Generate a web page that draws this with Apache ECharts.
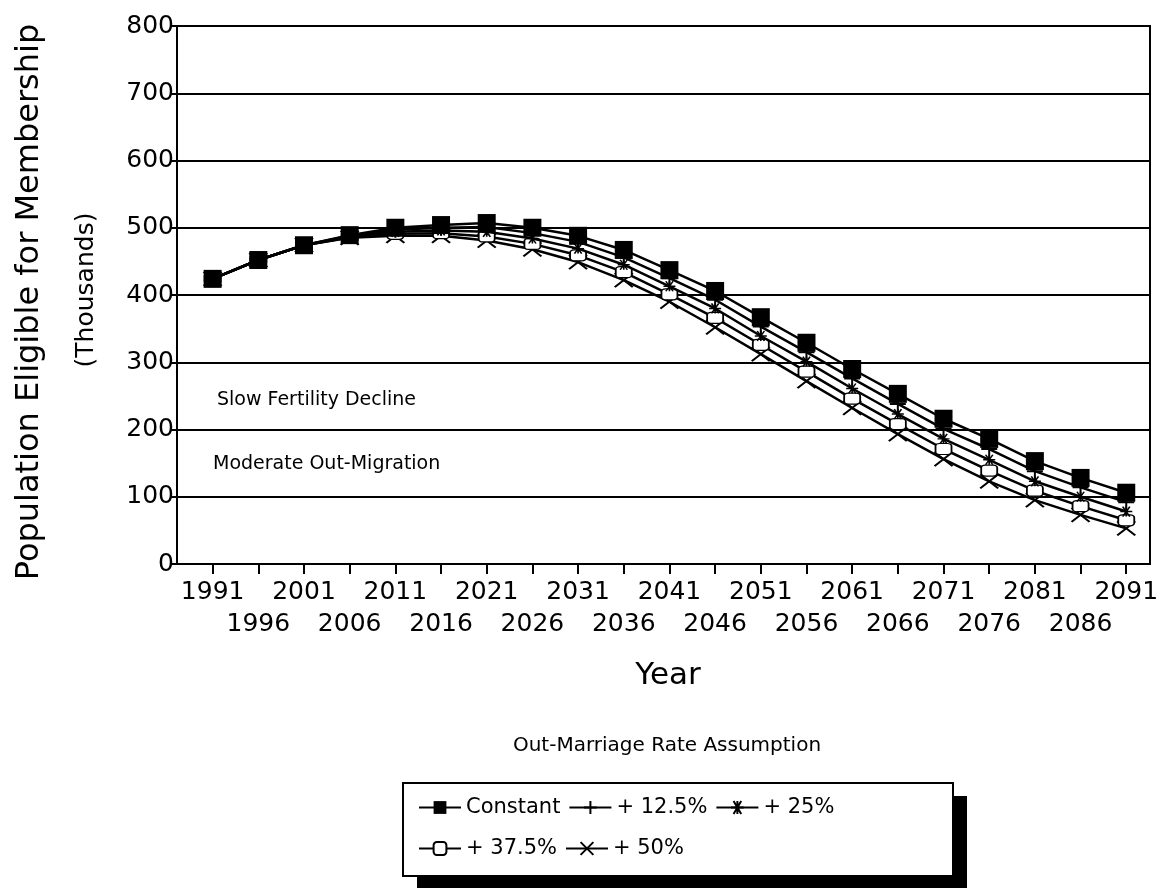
<!DOCTYPE html>
<html>
<head>
<meta charset="utf-8">
<script src="https://cdn.jsdelivr.net/npm/echarts@6/dist/echarts.min.js"></script>
<style>
  html, body { margin: 0; padding: 0; background: #fff; }
  #main { width: 1161px; height: 888px; }
</style>
</head>
<body>
<div id="main"></div>
<script>
var years = [1991, 1996, 2001, 2006, 2011, 2016, 2021, 2026, 2031, 2036, 2041,
             2046, 2051, 2056, 2061, 2066, 2071, 2076, 2081, 2086, 2091];
var constant = [424, 452, 474, 489, 500, 504, 507, 500, 488, 467, 437, 406, 367, 329, 290, 253, 216, 186, 153, 128, 106];
var plus125  = [424, 452, 474, 488, 497, 500, 501, 492, 479, 456, 425, 393, 353, 315, 276, 238, 201, 171, 138, 114, 92];
var plus25   = [424, 452, 474, 487, 494, 496, 494, 484, 469, 445, 413, 380, 339, 301, 261, 223, 186, 155, 123, 100, 78];
var plus375  = [424, 452, 474, 486, 491, 492, 487, 476, 459, 434, 401, 366, 326, 286, 246, 208, 171, 139, 109, 86, 65];
var plus50   = [424, 452, 474, 485, 488, 488, 481, 468, 449, 422, 390, 352, 312, 272, 232, 193, 156, 123, 95, 73, 53];
var yTicks = [0, 100, 200, 300, 400, 500, 600, 700, 800];

// upper row of year labels and the staggered lower row
var yearsTop = years.filter(function (y, i) { return i % 2 === 0; });
var yearsLow = years.filter(function (y, i) { return i % 2 === 1; });

var chartDom = document.getElementById('main');
var myChart = echarts.init(chartDom);
var option;

var font = 'DejaVu Sans';

function pairs(arr) {
  return years.map(function (y, i) { return [y, arr[i]]; });
}

function makeSeries(name, arr, symbol, size, itemStyle, z) {
  return {
    name: name,
    type: 'line',
    xAxisIndex: 0,
    data: pairs(arr),
    symbol: symbol,
    symbolSize: size,
    showAllSymbol: true,
    z: z,
    lineStyle: { color: '#000', width: 2.5 },
    itemStyle: itemStyle,
    emphasis: { disabled: true },
    animation: false
  };
}

function yearLabel(v) { return String(v); }

option = {
  backgroundColor: '#fff',
  grid: {
    left: 177, right: 11, top: 26, bottom: 324,
    outerBoundsMode: 'none',
    show: true, borderColor: '#000', borderWidth: 2, backgroundColor: 'transparent'
  },
  xAxis: [
    {
      type: 'value',
      position: 'bottom',
      min: 1987.1,
      max: 2093.6,
      axisLine: { show: true, lineStyle: { color: '#000', width: 2 } },
      axisTick: { show: true, customValues: years, length: 10, lineStyle: { color: '#000', width: 2 } },
      axisLabel: {
        customValues: yearsTop,
        showMinLabel: true,
        showMaxLabel: true,
        color: '#000',
        fontFamily: font,
        fontSize: 25,
        margin: 16,
        formatter: yearLabel
      },
      splitLine: { show: false }
    },
    {
      type: 'value',
      position: 'bottom',
      offset: 32,
      min: 1987.1,
      max: 2093.6,
      axisLine: { show: false },
      axisTick: { show: false },
      axisLabel: {
        customValues: yearsLow,
        showMinLabel: true,
        showMaxLabel: true,
        color: '#000',
        fontFamily: font,
        fontSize: 25,
        margin: 16,
        formatter: yearLabel
      },
      splitLine: { show: false }
    }
  ],
  yAxis: {
    type: 'value',
    min: 0,
    max: 800,
    interval: 100,
    axisLine: { show: true, lineStyle: { color: '#000', width: 2 } },
    axisTick: { show: true, length: 7, lineStyle: { color: '#000', width: 2 } },
    axisLabel: { color: '#000', fontFamily: font, fontSize: 25, margin: 3,
      formatter: function (v) { return yTicks.indexOf(v) >= 0 ? String(v) : ''; } },
    splitLine: { show: true, lineStyle: { color: '#000', width: 2 } }
  },
  legend: {
    left: 413,
    top: 786,
    width: 470,
    itemWidth: 42,
    itemHeight: 16,
    itemGap: 8,
    itemTextGap: 18,
    textStyle: { color: '#000', fontFamily: font, fontSize: 21, lineHeight: 33 },
    data: ['Constant', '+ 12.5%', '+ 25%', '+ 37.5%', '+ 50%'],
    z: 10
  },
  graphic: [
    { type: 'text', x: 30, y: 302, rotation: Math.PI / 2,
      style: { text: 'Population Eligible for Membership', font: '32px "DejaVu Sans"', fill: '#000',
        textAlign: 'center', textVerticalAlign: 'middle' } },
    { type: 'text', x: 86, y: 290, rotation: Math.PI / 2,
      style: { text: '(Thousands)', font: '25px "DejaVu Sans"', fill: '#000',
        textAlign: 'center', textVerticalAlign: 'middle' } },
    { type: 'text', x: 668, y: 676,
      style: { text: 'Year', font: '31px "DejaVu Sans"', fill: '#000',
        textAlign: 'center', textVerticalAlign: 'middle' } },
    { type: 'text', x: 217, y: 400,
      style: { text: 'Slow Fertility Decline', font: '19px "DejaVu Sans"', fill: '#000',
        textAlign: 'left', textVerticalAlign: 'middle' } },
    { type: 'text', x: 213, y: 464,
      style: { text: 'Moderate Out-Migration', font: '19px "DejaVu Sans"', fill: '#000',
        textAlign: 'left', textVerticalAlign: 'middle' } },
    { type: 'text', x: 667, y: 746,
      style: { text: 'Out-Marriage Rate Assumption', font: '20px "DejaVu Sans"', fill: '#000',
        textAlign: 'center', textVerticalAlign: 'middle' } },
    { type: 'rect', z: 1, shape: { x: 417, y: 796, width: 550, height: 93 },
      style: { fill: '#000' } },
    { type: 'rect', z: 2, shape: { x: 403, y: 783, width: 550, height: 93 },
      style: { fill: '#fff', stroke: '#000', lineWidth: 2 } }
  ],
  series: [
    makeSeries('+ 50%', plus50, 'path://M0,0L10,10M10,0L0,10', [18, 14],
      { color: '#000', borderColor: '#000', borderWidth: 2 }, 3),
    makeSeries('+ 37.5%', plus375, 'roundRect', [16, 11],
      { color: '#fff', borderColor: '#000', borderWidth: 1.5 }, 4),
    makeSeries('+ 25%', plus25, 'path://M0,5L10,5M5,2L5,8M2,2L8,8M8,2L2,8', [12, 10],
      { color: '#000', borderColor: '#000', borderWidth: 1.5 }, 5),
    makeSeries('+ 12.5%', plus125, 'path://M5,0L5,10M0,5L10,5', [16, 16],
      { color: '#000', borderColor: '#000', borderWidth: 2 }, 6),
    makeSeries('Constant', constant, 'rect', [18, 18],
      { color: '#000' }, 7)
  ]
};

option && myChart.setOption(option);
</script>
</body>
</html>
